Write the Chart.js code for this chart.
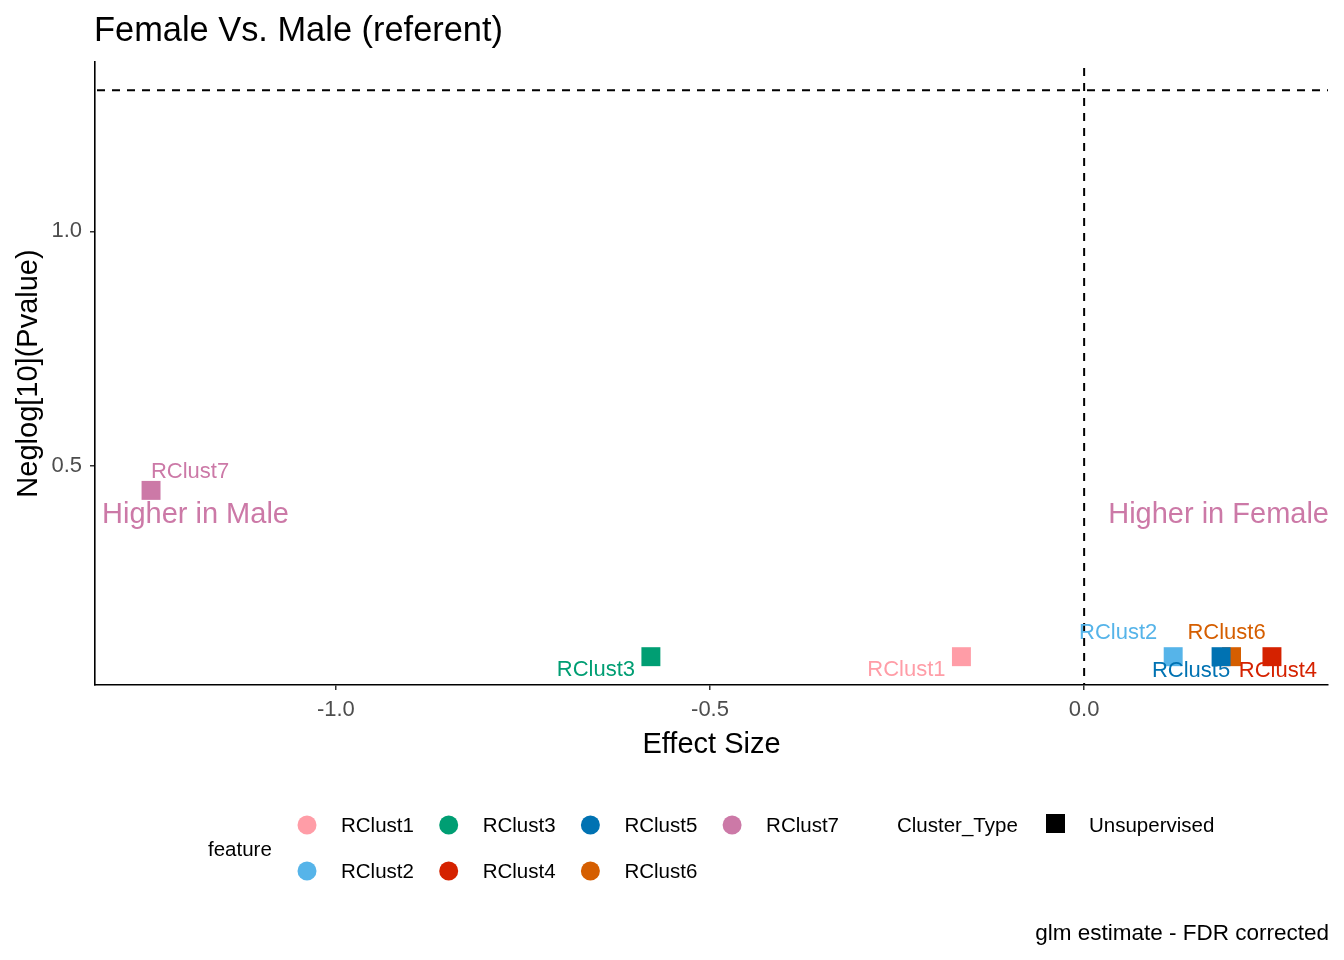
<!DOCTYPE html>
<html>
<head>
<meta charset="utf-8">
<script src="https://cdn.jsdelivr.net/npm/chart.js@4.4.1/dist/chart.umd.min.js"></script>
<style>
  body { margin: 0; background: #fff; }
  #wrap { width: 1344px; height: 960px; position: relative; }
</style>
</head>
<body>
<div id="wrap"><canvas id="myChart"></canvas></div>
<script>
// data
const features = ['RClust1', 'RClust2', 'RClust3', 'RClust4', 'RClust5', 'RClust6', 'RClust7'];
const effectSize = [-0.164, 0.119, -0.579, 0.251, 0.183, 0.197, -1.247];
const neglogP = [0.092, 0.092, 0.092, 0.092, 0.092, 0.092, 0.447];
const xTicks = [-1.0, -0.5, 0.0];
const yTicks = [0.5, 1.0];
const pThreshold = 1.30103; // -log10(0.05)
const clusterTypes = ['Unsupervised'];

const colors = ['#FF9DA7', '#56B4E9', '#009E73', '#D52200', '#0072B2', '#D55E00', '#CC79A7'];
// label offsets from the point (pixels), like ggrepel put them
const labelDx = [-55, -55, -55, 6, -30, -5, 39];
const labelDy = [13, -24, 13, 14, 14, -24, -18];

const FONT = "'Liberation Sans', Arial, sans-serif";

// ggplot style 5% expansion
const xr = [Math.min(...effectSize), Math.max(...effectSize)];
const yr = [Math.min(...neglogP), Math.max(...neglogP, pThreshold)];
const xpad = (xr[1] - xr[0]) * 0.05;
const ypad = (yr[1] - yr[0]) * 0.05;

const datasets = features.map((f, i) => ({
  label: f,
  data: [{ x: effectSize[i], y: neglogP[i] }],
  backgroundColor: colors[i],
  borderWidth: 0,
  pointStyle: 'rect',
  pointRadius: 13.4,
  pointHoverRadius: 13.4,
  order: f == 'RClust5' ? 0 : 1
}));

const extras = {
  id: 'extras',
  beforeDatasetsDraw(chart) {
    const { ctx, chartArea, scales } = chart;
    ctx.save();
    ctx.strokeStyle = '#000';
    ctx.lineWidth = 2;
    ctx.setLineDash([8, 7]);
    const hy = scales.y.getPixelForValue(pThreshold);
    ctx.beginPath();
    ctx.moveTo(chartArea.left + 2, hy);
    ctx.lineTo(chartArea.right, hy);
    ctx.stroke();
    const vx = scales.x.getPixelForValue(0);
    ctx.beginPath();
    ctx.moveTo(vx, chartArea.top + 6);
    ctx.lineTo(vx, chartArea.bottom);
    ctx.stroke();
    ctx.restore();
  },
  afterDatasetsDraw(chart) {
    const { ctx, chartArea, scales } = chart;
    ctx.save();
    ctx.textBaseline = 'middle';
    ctx.textAlign = 'center';
    ctx.font = '22px ' + FONT;
    features.forEach((f, i) => {
      const px = scales.x.getPixelForValue(effectSize[i]);
      const py = scales.y.getPixelForValue(neglogP[i]);
      ctx.fillStyle = colors[i];
      ctx.fillText(f, px + labelDx[i], py + labelDy[i]);
    });
    // side annotations
    ctx.font = '29px ' + FONT;
    ctx.fillStyle = '#CC79A7';
    const ay = scales.y.getPixelForValue(0.4) + 3;
    ctx.textAlign = 'left';
    ctx.fillText('Higher in Male', chartArea.left + 7, ay);
    ctx.textAlign = 'right';
    ctx.fillText('Higher in Female', chartArea.right + 1, ay);
    ctx.restore();
  },
  afterDraw(chart) {
    const { ctx, chartArea } = chart;
    ctx.save();
    ctx.fillStyle = '#000';
    // title
    ctx.font = '34.4px ' + FONT;
    ctx.textAlign = 'left';
    ctx.textBaseline = 'alphabetic';
    ctx.fillText('Female Vs. Male (referent)', chartArea.left - 1, 41);
    // axis titles
    ctx.font = '29px ' + FONT;
    ctx.textAlign = 'center';
    ctx.textBaseline = 'middle';
    ctx.fillText('Effect Size', (chartArea.left + chartArea.right) / 2, 745);
    ctx.save();
    ctx.translate(29, (chartArea.top + chartArea.bottom) / 2);
    ctx.rotate(-Math.PI / 2);
    ctx.fillText('Neglog[10](Pvalue)', 0, 0);
    ctx.restore();
    // legend: feature
    ctx.font = '20.5px ' + FONT;
    ctx.textAlign = 'left';
    ctx.fillText('feature', 208, 850);
    features.forEach((f, i) => {
      const cx = 307 + Math.floor(i / 2) * 141.7;
      const cy = 825 + (i % 2) * 46;
      ctx.fillStyle = colors[i];
      ctx.beginPath();
      ctx.arc(cx, cy, 9.5, 0, Math.PI * 2);
      ctx.fill();
      ctx.fillStyle = '#000';
      ctx.fillText(f, cx + 34, cy + 1.5);
    });
    // legend: Cluster_Type
    ctx.fillText('Cluster_Type', 897, 826.5);
    clusterTypes.forEach((t, i) => {
      ctx.fillRect(1046, 814 + i * 46, 19, 19);
      ctx.fillText(t, 1089, 826.5 + i * 46);
    });
    // caption
    ctx.font = '22.5px ' + FONT;
    ctx.textAlign = 'right';
    ctx.fillText('glm estimate - FDR corrected', chartArea.right + 1, 934);
    ctx.restore();
  }
};

const ctx = document.getElementById('myChart');

new Chart(ctx, {
  type: 'scatter',
  data: { datasets: datasets },
  options: {
    responsive: true,
    maintainAspectRatio: false,
    devicePixelRatio: 1,
    animation: false,
    layout: { padding: { left: 0, top: 62, right: 16, bottom: 0 } },
    plugins: {
      legend: { display: false },
      tooltip: { enabled: false },
      title: { display: false }
    },
    scales: {
      x: {
        type: 'linear',
        min: xr[0] - xpad,
        max: xr[1] + xpad,
        afterBuildTicks: s => { s.ticks = xTicks.map(v => ({ value: v })); },
        afterFit: s => { s.height = 275; },
        ticks: {
          callback: v => Number(v).toFixed(1),
          font: { family: FONT, size: 22 },
          color: '#4D4D4D',
          padding: 7,
          maxRotation: 0
        },
        grid: { display: true, drawOnChartArea: false, drawTicks: true, tickLength: 5, color: '#333', lineWidth: 1.5 },
        border: { display: true, color: '#000', width: 1.6 }
      },
      y: {
        type: 'linear',
        min: yr[0] - ypad,
        max: yr[1] + ypad,
        afterBuildTicks: s => { s.ticks = yTicks.map(v => ({ value: v })); },
        afterFit: s => { s.width = 95; },
        ticks: {
          callback: v => Number(v).toFixed(1),
          font: { family: FONT, size: 22 },
          color: '#4D4D4D',
          padding: 8
        },
        grid: { display: true, drawOnChartArea: false, drawTicks: true, tickLength: 5, color: '#333', lineWidth: 1.5 },
        border: { display: true, color: '#000', width: 1.6 }
      }
    }
  },
  plugins: [extras]
});
</script>
</body>
</html>
